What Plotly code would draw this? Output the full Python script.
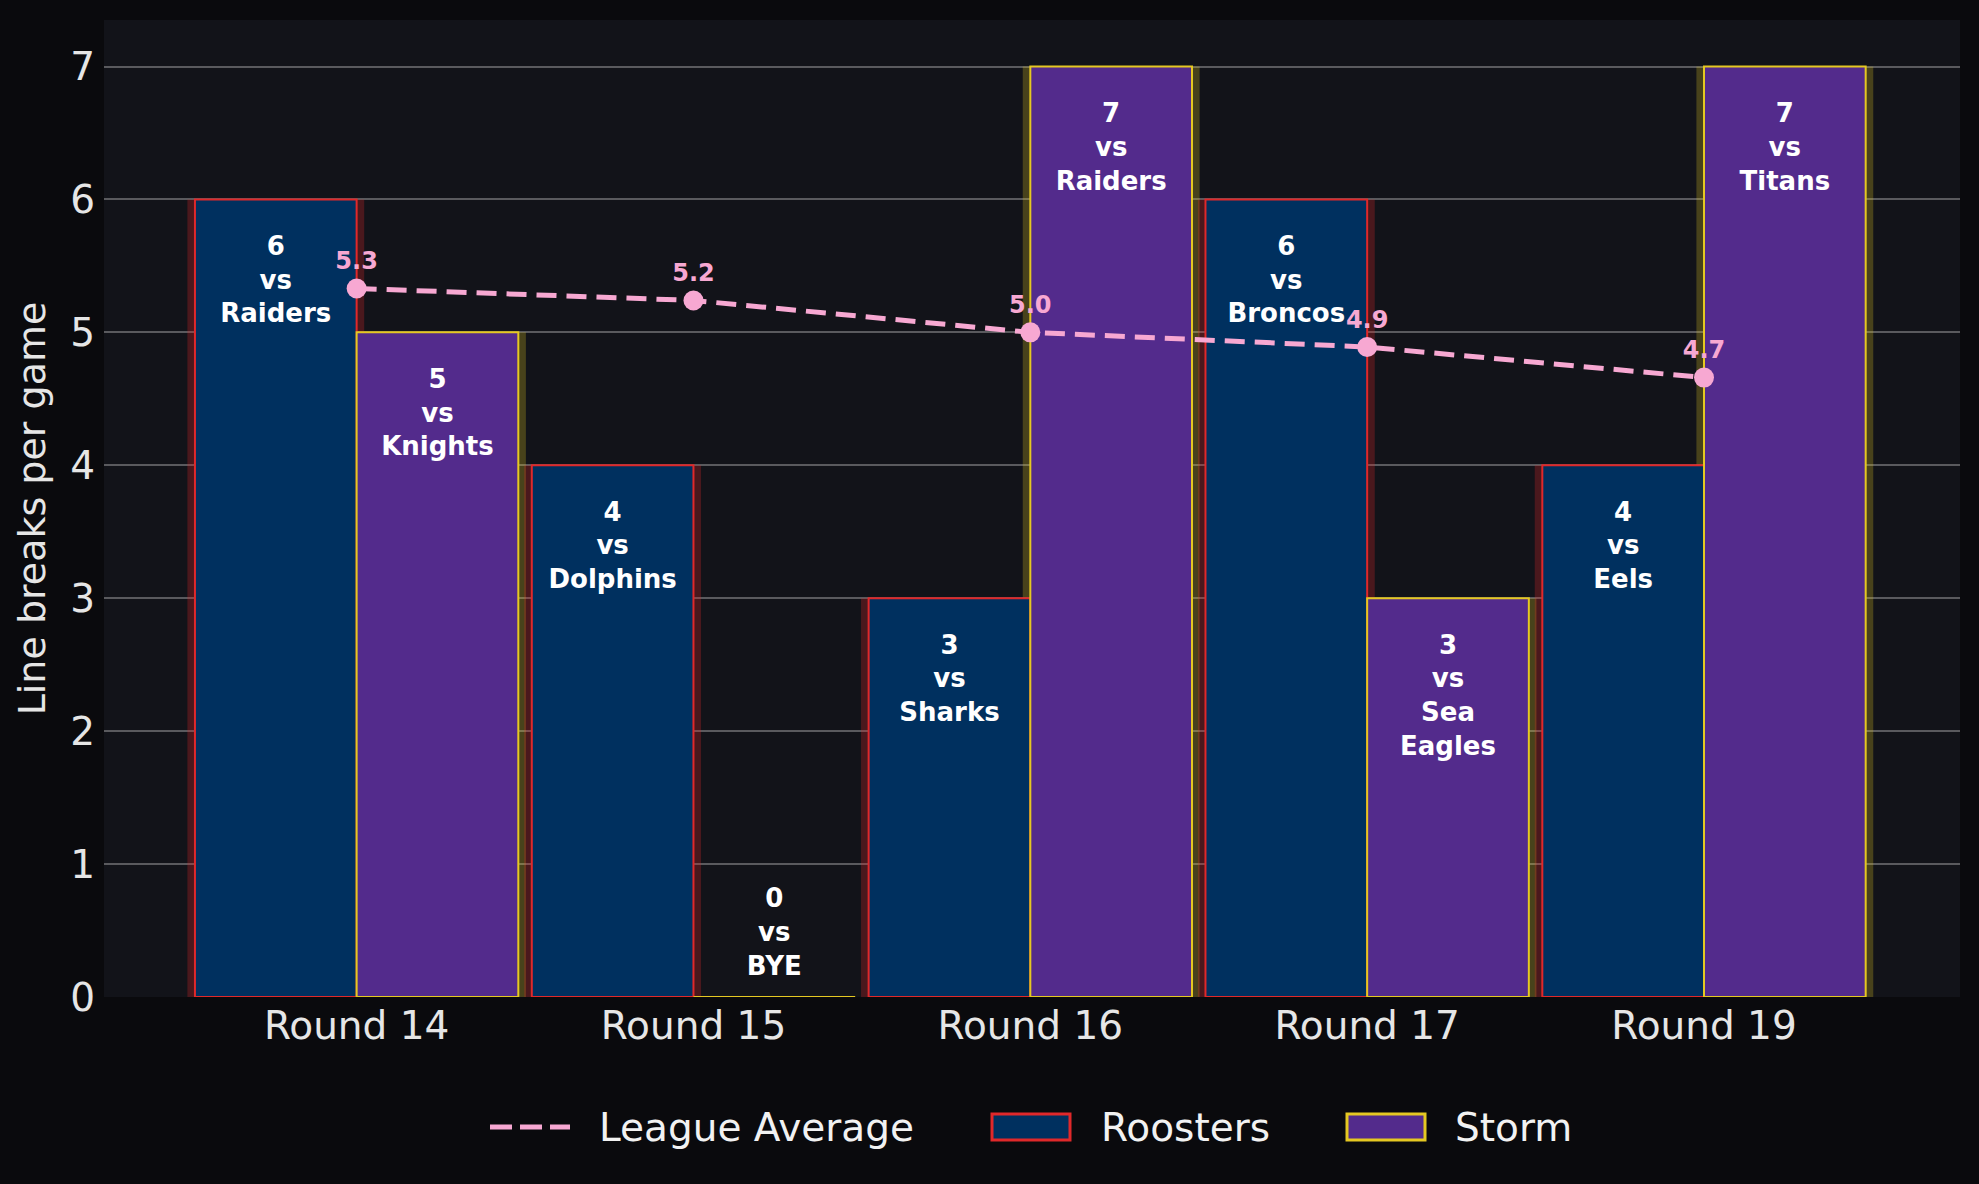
import plotly.graph_objects as go

# ---- data ----
rounds = ["Round 14", "Round 15", "Round 16", "Round 17", "Round 19"]
roosters = [6, 4, 3, 6, 4]
roosters_opp = ["Raiders", "Dolphins", "Sharks", "Broncos", "Eels"]
storm = [5, 0, 7, 3, 7]
storm_opp = ["Knights", "BYE", "Raiders", "Sea Eagles", "Titans"]
league_avg = [5.33, 5.24, 5.00, 4.89, 4.66]
y_ticks = [0, 1, 2, 3, 4, 5, 6, 7]
legend_names = ["League Average", "Roosters", "Storm"]

# ---- style ----
PAPER = "#0a0a0d"
PLOT = "#121319"
ROO_FILL, ROO_LINE, ROO_GLOW = "#00305f", "#e0282a", "rgba(224,40,42,0.27)"
STO_FILL, STO_LINE, STO_GLOW = "#532b8c", "#e5c822", "rgba(229,200,34,0.26)"
PINK = "#f7a8d2"
FONT = "DejaVu Sans"
TXT = "#e6e6e6"

W, H = 1979, 1184
ML, MR, MT, MB = 104, 19, 20, 187
PW, PH = W - ML - MR, H - MT - MB

BW = 0.48          # bar width in category units
GLOW_W = 0.525     # glow bar width

idx = list(range(len(rounds)))
x_roo = [i - BW / 2 for i in idx]
x_sto = [i + BW / 2 for i in idx]

fig = go.Figure()

# glow bars (behind)
fig.add_trace(go.Bar(x=x_sto, y=storm, width=GLOW_W, marker=dict(color=STO_GLOW, line=dict(width=0)),
                     showlegend=False, hoverinfo="skip"))
fig.add_trace(go.Bar(x=x_roo, y=roosters, width=GLOW_W, marker=dict(color=ROO_GLOW, line=dict(width=0)),
                     showlegend=False, hoverinfo="skip"))

# main bars
fig.add_trace(go.Bar(x=x_roo, y=roosters, width=BW, name="Roosters", showlegend=False,
                     marker=dict(color=ROO_FILL, line=dict(color=ROO_LINE, width=2))))
fig.add_trace(go.Bar(x=x_sto, y=storm, width=BW, name="Storm", showlegend=False,
                     marker=dict(color=STO_FILL, line=dict(color=STO_LINE, width=2))))

# bar labels: inside near the top for tall bars, just above the base for tiny ones
def label_text(value, opp):
    return "<br>".join([str(value), "vs"] + opp.split(" "))

for xs, vals, opps in ((x_roo, roosters, roosters_opp), (x_sto, storm, storm_opp)):
    for pos, cond, off in (("bottom center", True, -0.27), ("top center", False, 0.12)):
        sel = [(x, v, o) for x, v, o in zip(xs, vals, opps) if (v > 1) == cond]
        if not sel:
            continue
        fig.add_trace(go.Scatter(
            x=[s[0] for s in sel], y=[s[1] + off for s in sel],
            text=[label_text(s[1], s[2]) for s in sel],
            mode="text", textposition=pos,
            textfont=dict(family=FONT, size=26, color="white", weight="bold"),
            showlegend=False, hoverinfo="skip"))

# league average line
fig.add_trace(go.Scatter(x=idx, y=league_avg, mode="lines", name="League Average", showlegend=False,
                         line=dict(color=PINK, width=5, dash="20px,10px")))
fig.add_trace(go.Scatter(x=idx, y=league_avg, mode="markers+text",
                         text=[f"{v:.1f}" for v in league_avg], textposition="top center",
                         textfont=dict(family=FONT, size=24, color=PINK, weight="bold"),
                         marker=dict(color=PINK, size=20), showlegend=False, hoverinfo="skip"))

# ---- legend (drawn below the plot, paper coordinates) ----
def px_x(X):
    return (X - ML) / PW

def px_y(Y):
    return (H - MB - Y) / PH

LEG_Y = 1127
shapes = [
    dict(type="line", xref="paper", yref="paper", x0=px_x(490), x1=px_x(570), y0=px_y(LEG_Y), y1=px_y(LEG_Y),
         line=dict(color=PINK, width=5, dash="22px,8px")),
    dict(type="rect", xref="paper", yref="paper", x0=px_x(992), x1=px_x(1070), y0=px_y(LEG_Y - 13), y1=px_y(LEG_Y + 13),
         fillcolor=ROO_FILL, line=dict(color=ROO_LINE, width=3)),
    dict(type="rect", xref="paper", yref="paper", x0=px_x(1347), x1=px_x(1425), y0=px_y(LEG_Y - 13), y1=px_y(LEG_Y + 13),
         fillcolor=STO_FILL, line=dict(color=STO_LINE, width=3)),
]
annotations = [
    dict(text=name, xref="paper", yref="paper", x=px_x(xs), y=px_y(LEG_Y), xanchor="left", yanchor="middle",
         showarrow=False, font=dict(family=FONT, size=39, color="#f2f2f2"))
    for name, xs in zip(legend_names, [597, 1099, 1453])
]

fig.update_layout(
    width=W, height=H,
    paper_bgcolor=PAPER, plot_bgcolor=PLOT,
    barmode="overlay",
    margin=dict(l=ML, r=MR, t=MT, b=MB, autoexpand=False),
    font=dict(family=FONT, color=TXT, size=39),
    showlegend=False,
    shapes=shapes,
    annotations=annotations,
    xaxis=dict(range=[-0.75, 4.76], tickmode="array", tickvals=idx, ticktext=rounds,
               showgrid=False, zeroline=False, showline=False, ticks="", ticklabelstandoff=2,
               tickfont=dict(family=FONT, size=39, color=TXT)),
    yaxis=dict(range=[0, 7.35], tickmode="array", tickvals=y_ticks,
               showgrid=True, gridcolor="#5a5a5e", gridwidth=2, zeroline=False, showline=False,
               ticks="", ticklabelstandoff=8, tickfont=dict(family=FONT, size=39, color=TXT),
               title=dict(text="Line breaks per game", standoff=12,
                          font=dict(family=FONT, size=38, color=TXT))),
)

fig.write_html("out.html", config={"displayModeBar": False},
               post_script="document.body.style.margin='0';document.body.style.overflow='hidden';")
